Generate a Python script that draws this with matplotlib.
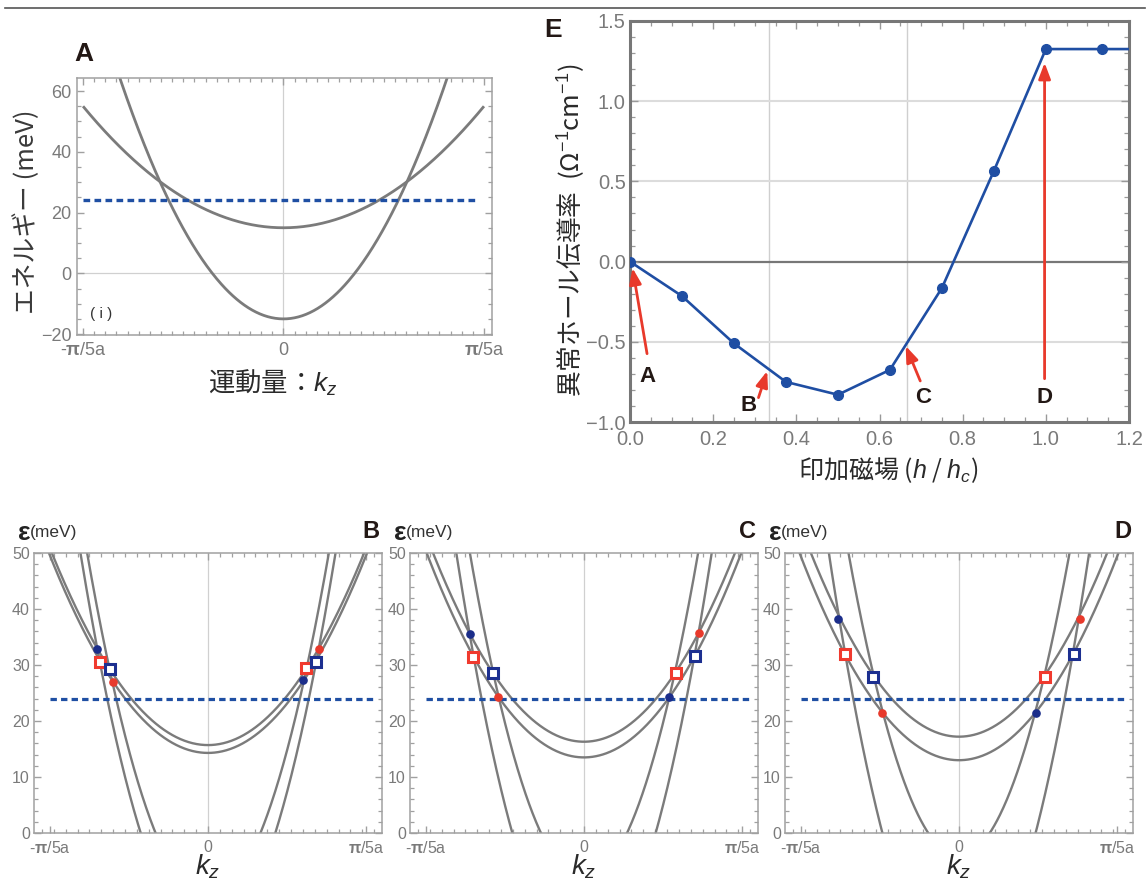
import numpy as np
import matplotlib
matplotlib.use("Agg")
import matplotlib.pyplot as plt
from matplotlib.ticker import MultipleLocator, FuncFormatter
from matplotlib.lines import Line2D

plt.rcParams['font.family'] = ['Liberation Sans', 'Noto Sans CJK JP', 'DejaVu Sans']
plt.rcParams['mathtext.fontset'] = 'custom'
plt.rcParams['mathtext.rm'] = 'Liberation Sans'
plt.rcParams['mathtext.it'] = 'Liberation Sans:italic'
plt.rcParams['mathtext.bf'] = 'Liberation Sans:bold'
plt.rcParams['axes.unicode_minus'] = True

# ---------------- data ----------------
fermi_level = 24.0

# Panel A: band bottoms (meV) and curvatures (meV per (pi/5a)^2)
a_band_min = [15.0, -15.0]
a_band_curv = [40.0, 119.0]
a_band_kmax = [1.0, 1.2]

# Panels B, C, D: two shallow and two steep bands
b_wide_min = [15.7, 14.3]
b_wide_curv = [35.2, 35.3]
b_steep_min = [-11.6, -19.3]
b_steep_curv = [105.5, 106.6]

c_wide_min = [16.3, 13.5]
c_wide_curv = [37.0, 36.9]
c_steep_min = [-8.3, -23.0]
c_steep_curv = [112.0, 112.0]

d_wide_min = [17.2, 13.0]
d_wide_curv = [37.4, 36.4]
d_steep_min = [-4.2, -26.5]
d_steep_curv = [111.0, 113.0]

# crossing markers (k in units of pi/5a, energy meV)
b_blue_dot_k = [-0.70, 0.603];  b_blue_dot_e = [32.8, 27.3]
b_red_dot_k = [-0.60, 0.70];    b_red_dot_e = [27.0, 32.9]
b_red_sq_k = [-0.68, 0.622];    b_red_sq_e = [30.6, 29.4]
b_blue_sq_k = [-0.62, 0.685];   b_blue_sq_e = [29.3, 30.6]

c_blue_dot_k = [-0.722, 0.540]; c_blue_dot_e = [35.6, 24.3]
c_red_dot_k = [-0.542, 0.727];  c_red_dot_e = [24.3, 35.7]
c_red_sq_k = [-0.70, 0.580];    c_red_sq_e = [31.5, 28.5]
c_blue_sq_k = [-0.573, 0.704];  c_blue_sq_e = [28.5, 31.6]

d_blue_dot_k = [-0.764, 0.489]; d_blue_dot_e = [38.3, 21.5]
d_red_dot_k = [-0.486, 0.766];  d_red_dot_e = [21.5, 38.3]
d_red_sq_k = [-0.722, 0.545];   d_red_sq_e = [32.0, 27.9]
d_blue_sq_k = [-0.542, 0.725];  d_blue_sq_e = [27.9, 32.0]

# Panel E: anomalous Hall conductivity vs field
h_field = [0.0, 0.125, 0.25, 0.375, 0.5, 0.625, 0.75, 0.875, 1.0, 1.135, 1.26]
sigma_ah = [0.0, -0.215, -0.51, -0.75, -0.83, -0.675, -0.165, 0.565, 1.325, 1.325, 1.325]

arrow_labels = ['A', 'B', 'C', 'D']
arrow_tail = [(0.041, -0.574), (0.309, -0.848), (0.698, -0.744), (0.997, -0.73)]
arrow_head = [(0.006, -0.04), (0.330, -0.682), (0.663, -0.526), (0.997, 1.24)]
arrow_label_pos = [(0.041, -0.715), (0.285, -0.90), (0.705, -0.85), (0.997, -0.85)]

k_tick_labels = ['-$\\mathbf{π}$/5a', '0', '$\\mathbf{π}$/5a']

# ---------------- styles ----------------
W, H = 1148, 882
GRAY_BAND = '#7b7b7b'
FERMI_BLUE = '#1f4fa3'
E_BLUE = '#1f4ea3'
RED = '#e8392b'
NAVY = '#1b2d8a'
FRAME = '#a0a0a0'
TICKLAB = '#7a7a7a'


def fax(l, t, r, b):
    return [l / W, 1 - b / H, (r - l) / W, (b - t) / H]


def fx(x):
    return x / W


def fy(y):
    return 1 - y / H


def one_decimal(v, pos):
    return ('%.1f' % v).replace('-', '\u2212')


fig = plt.figure(figsize=(W / 100, H / 100), dpi=100)
fig.add_artist(Line2D([5 / W, 1145 / W], [fy(8), fy(8)], color='#555555', lw=1.2))


def style_light(ax, labelsize, xminor, yminor):
    for s in ax.spines.values():
        s.set_color(FRAME)
        s.set_linewidth(1.1)
    ax.tick_params(which='both', direction='in', top=True, right=True, color=FRAME,
                   labelcolor=TICKLAB, labelsize=labelsize)
    ax.tick_params(which='major', length=5, width=1.0)
    ax.tick_params(which='minor', length=3, width=0.9)
    ax.xaxis.set_minor_locator(MultipleLocator(xminor))
    ax.yaxis.set_minor_locator(MultipleLocator(yminor))


# ---------------- Panel A ----------------
axA = fig.add_axes(fax(77, 78, 492, 335))
axA.set_xlim(-1.03, 1.04)
axA.set_ylim(-20.3, 64.3)
axA.axvline(0, color='#d0d0d0', lw=0.9, zorder=0)
axA.axhline(0, color='#d0d0d0', lw=0.9, zorder=0)
for m, c, km in zip(a_band_min, a_band_curv, a_band_kmax):
    kk = np.linspace(-km, km, 500)
    axA.plot(kk, m + c * kk ** 2, color=GRAY_BAND, lw=2.0, solid_capstyle='butt')
axA.plot([-1.0, 0.975], [fermi_level, fermi_level], color=FERMI_BLUE, lw=2.4,
         dashes=(2.0, 1.3))
axA.set_xticks([-1, 0, 1])
axA.set_xticklabels(k_tick_labels)
axA.set_yticks([-20, 0, 20, 40, 60])
style_light(axA, 13, 1 / 18, 5)
axA.tick_params(axis='x', pad=5)
axA.tick_params(axis='y', pad=4)
fig.text(fx(101), fy(314), '( i )', fontsize=11, color='#333333', ha='center', va='center')
fig.text(fx(83.5), fy(54), 'A', fontsize=19, fontweight='bold', color='#231815',
         ha='center', va='center')
fig.text(fx(27), fy(212), 'エネルギー (meV)', fontsize=18.5, color='#3a3a3a', rotation=90,
         ha='center', va='center', family=['Noto Sans CJK JP'])
fig.text(fx(273), fy(383), '運動量：$k_z$', fontsize=19, color='#2a2a2a',
         ha='center', va='center', family=['Noto Sans CJK JP'])

# ---------------- Panel E ----------------
axE = fig.add_axes(fax(630, 21, 1129, 422))
axE.set_xlim(0, 1.2)
axE.set_ylim(-1.0, 1.5)
for xv in (1 / 3, 2 / 3):
    axE.axvline(xv, color='#cfcfcf', lw=1.0, zorder=0)
for yv in (-0.5, 0.5, 1.0):
    axE.axhline(yv, color='#dcdcdc', lw=1.5, zorder=0)
axE.axhline(0, color='#777777', lw=1.6, zorder=1)
axE.plot(h_field, sigma_ah, '-o', color=E_BLUE, lw=1.9, ms=7, zorder=3, clip_on=True)
for s in axE.spines.values():
    s.set_color('#777777')
    s.set_linewidth(2.2)
axE.tick_params(which='both', direction='in', top=True, right=True, color='#999999',
                labelcolor=TICKLAB, labelsize=14.5)
axE.tick_params(which='major', length=6, width=1.0)
axE.tick_params(which='minor', length=3.5, width=0.9)
axE.tick_params(axis='x', pad=6)
axE.tick_params(axis='y', pad=3)
axE.set_xticks([0, 0.2, 0.4, 0.6, 0.8, 1.0, 1.2])
axE.set_yticks([-1.0, -0.5, 0.0, 0.5, 1.0, 1.5])
axE.xaxis.set_major_formatter(FuncFormatter(one_decimal))
axE.yaxis.set_major_formatter(FuncFormatter(one_decimal))
axE.xaxis.set_minor_locator(MultipleLocator(0.05))
axE.yaxis.set_minor_locator(MultipleLocator(0.1))
for lab, tail, head, lp in zip(arrow_labels, arrow_tail, arrow_head, arrow_label_pos):
    axE.annotate('', xy=head, xytext=tail, xycoords='data', textcoords='data',
                 arrowprops=dict(arrowstyle='-|>,head_length=0.8,head_width=0.3',
                                 color=RED, lw=2.0, shrinkA=0, shrinkB=0,
                                 mutation_scale=12), zorder=5, annotation_clip=False)
    axE.text(lp[0], lp[1], lab, fontsize=16, fontweight='bold', color='#231815',
             ha='center', va='center', zorder=6)
fig.text(fx(553), fy(30), 'E', fontsize=19, fontweight='bold', color='#231815',
         ha='center', va='center')
fig.text(fx(572), fy(230), '異常ホール伝導率  (Ω$^{-1}$cm$^{-1}$)', fontsize=18.5,
         color='#2a2a2a', rotation=90, ha='center', va='center', family=['Noto Sans CJK JP'])
fig.text(fx(888), fy(470), '印加磁場 ($h$ / $h_c$)', fontsize=18, color='#2a2a2a',
         ha='center', va='center', family=['Noto Sans CJK JP'])

# ---------------- Panels B, C, D ----------------
panels = [
    ('B', 34, 382, b_wide_min, b_wide_curv, b_steep_min, b_steep_curv,
     (b_blue_dot_k, b_blue_dot_e), (b_red_dot_k, b_red_dot_e),
     (b_red_sq_k, b_red_sq_e), (b_blue_sq_k, b_blue_sq_e)),
    ('C', 410, 758, c_wide_min, c_wide_curv, c_steep_min, c_steep_curv,
     (c_blue_dot_k, c_blue_dot_e), (c_red_dot_k, c_red_dot_e),
     (c_red_sq_k, c_red_sq_e), (c_blue_sq_k, c_blue_sq_e)),
    ('D', 785, 1133, d_wide_min, d_wide_curv, d_steep_min, d_steep_curv,
     (d_blue_dot_k, d_blue_dot_e), (d_red_dot_k, d_red_dot_e),
     (d_red_sq_k, d_red_sq_e), (d_blue_sq_k, d_blue_sq_e)),
]

for (lab, left, right, wmin, wcurv, smin, scurv, bdot, rdot, rsq, bsq) in panels:
    ax = fig.add_axes(fax(left, 553, right, 833))
    ax.set_xlim(-1.1, 1.1)
    ax.set_ylim(0, 50)
    ax.axvline(0, color='#d0d0d0', lw=0.9, zorder=0)
    kk = np.linspace(-1.1, 1.1, 600)
    for m, c in list(zip(wmin, wcurv)) + list(zip(smin, scurv)):
        ax.plot(kk, m + c * kk ** 2, color=GRAY_BAND, lw=1.7)
    ax.plot([-1.0, 1.04], [fermi_level, fermi_level], color=FERMI_BLUE, lw=2.3,
            dashes=(2.0, 1.3), zorder=3)
    ax.plot(bdot[0], bdot[1], 'o', color=NAVY, ms=5.2, zorder=5, clip_on=False)
    ax.plot(rdot[0], rdot[1], 'o', color=RED, ms=5.2, zorder=5, clip_on=False)
    ax.plot(rsq[0], rsq[1], 's', mfc='white', mec='#f03a2e', mew=2.2, ms=6.5, zorder=6,
            clip_on=False)
    ax.plot(bsq[0], bsq[1], 's', mfc='white', mec='#1c2f90', mew=2.2, ms=6.5, zorder=6,
            clip_on=False)
    ax.set_xticks([-1, 0, 1])
    ax.set_xticklabels(k_tick_labels)
    ax.set_yticks([0, 10, 20, 30, 40, 50])
    style_light(ax, 11.5, 0.075, 2)
    ax.tick_params(axis='x', pad=5)
    ax.tick_params(axis='y', pad=3)
    fig.text(fx(left - 16), fy(533), 'ε', fontsize=19, fontweight='bold', color='#222222',
             ha='left', va='center')
    fig.text(fx(left - 4), fy(533), '(meV)', fontsize=12.5, color='#333333',
             ha='left', va='center')
    fig.text(fx(right - 2), fy(532), lab, fontsize=17, fontweight='bold', color='#231815',
             ha='right', va='center')
    fig.text(fx((left + right) / 2), fy(867), '$k_z$', fontsize=20, color='#2a2a2a',
             ha='center', va='center')

fig.savefig('out.png', dpi=100)
